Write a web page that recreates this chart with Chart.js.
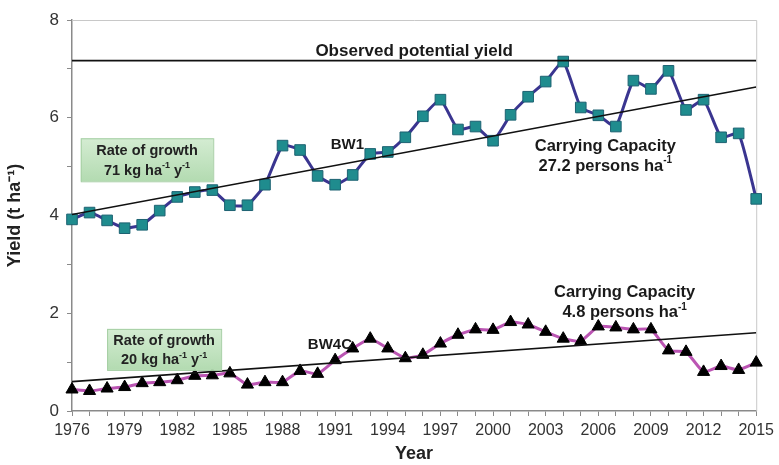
<!DOCTYPE html>
<html>
<head>
<meta charset="utf-8">
<script src="https://cdn.jsdelivr.net/npm/chart.js@4"></script>
<style>
  body { margin: 0; background: #fff; }
  #wrap { width: 779px; height: 465px; }
</style>
</head>
<body>
<div id="wrap"><canvas id="yieldChart"></canvas></div>
<script>
// years on the x axis
const years = [];
for (let y = 1976; y <= 2015; y++) years.push(y);

// BW1 yield, t/ha
const bw1 = [3.92, 4.06, 3.90, 3.74, 3.81, 4.10, 4.38, 4.48, 4.52, 4.21,
  4.21, 4.63, 5.43, 5.34, 4.81, 4.63, 4.83, 5.26, 5.30, 5.60,
  6.03, 6.37, 5.76, 5.82, 5.53, 6.06, 6.43, 6.74, 7.15, 6.21,
  6.05, 5.82, 6.76, 6.59, 6.96, 6.16, 6.37, 5.60, 5.68, 4.34];

// BW4C yield, t/ha
const bw4c = [0.44, 0.41, 0.46, 0.49, 0.57, 0.59, 0.63, 0.72, 0.73, 0.77,
  0.54, 0.59, 0.59, 0.82, 0.76, 1.04, 1.28, 1.48, 1.28, 1.08,
  1.15, 1.38, 1.56, 1.67, 1.66, 1.82, 1.77, 1.62, 1.48, 1.43,
  1.73, 1.71, 1.67, 1.67, 1.24, 1.21, 0.80, 0.92, 0.84, 0.99];

// trend lines (start/end) and potential yield
const trendYears = [1976, 2015];
const bw1Trend = [4.02, 6.63];
const bw4cTrend = [0.60, 1.60];
const potentialYield = 7.17;

const yTickLabels = [0, 2, 4, 6, 8];

const FONT = "'Liberation Sans', Arial, sans-serif";

// text labels drawn in data coordinates
const notes = [
  { x: 1995.5, y: 7.35, size: 17, lines: ["Observed potential yield"] },
  { x: 1991.7, y: 5.45, size: 15, lines: ["BW1"] },
  { x: 1990.7, y: 1.36, size: 15, lines: ["BW4C"] },
  { x: 2006.4, y: 5.42, size: 16.5, lines: ["Carrying Capacity", ["27.2 persons ha", "-1"]] },
  { x: 2007.5, y: 2.42, size: 16.5, lines: ["Carrying Capacity", ["4.8 persons ha", "-1"]] },
];
const boxes = [
  { x0: 1976.5, x1: 1984.05, y0: 5.58, y1: 4.7, lines: ["Rate of growth", ["71 kg ha", "-1", " y", "-1"]] },
  { x0: 1978.0, x1: 1984.5, y0: 1.68, y1: 0.84, lines: ["Rate of growth", ["20 kg ha", "-1", " y", "-1"]] },
];

// draw a line made of [normal, sup, normal, sup...] parts, centred
function drawRich(ctx, parts, cx, cy, size) {
  if (typeof parts === "string") parts = [parts];
  const big = "bold " + size + "px " + FONT;
  const small = "bold " + Math.round(size * 0.62) + "px " + FONT;
  let total = 0;
  parts.forEach((p, i) => {
    ctx.font = i % 2 ? small : big;
    total += ctx.measureText(p).width;
  });
  let x = cx - total / 2;
  ctx.textAlign = "left";
  ctx.textBaseline = "middle";
  parts.forEach((p, i) => {
    ctx.font = i % 2 ? small : big;
    ctx.fillText(p, x, i % 2 ? cy - size * 0.35 : cy);
    x += ctx.measureText(p).width;
  });
}

const annotationPlugin = {
  id: "notes",
  beforeDatasetsDraw(chart) {
    const { ctx, chartArea: a } = chart;
    ctx.save();
    // light frame on top and right
    ctx.strokeStyle = "#c8c8c8";
    ctx.lineWidth = 1;
    ctx.beginPath();
    ctx.moveTo(a.left, a.top + 0.5);
    ctx.lineTo(a.right + 0.5, a.top + 0.5);
    ctx.lineTo(a.right + 0.5, a.bottom);
    ctx.stroke();
    ctx.restore();
  },
  afterDatasetsDraw(chart) {
    const { ctx, scales } = chart;
    const sx = scales.x, sy = scales.y;
    ctx.save();
    boxes.forEach(b => {
      const l = sx.getPixelForValue(b.x0), r = sx.getPixelForValue(b.x1);
      const t = sy.getPixelForValue(b.y0), bt = sy.getPixelForValue(b.y1);
      const g = ctx.createLinearGradient(0, t, 0, bt);
      g.addColorStop(0, "#d4ecd2");
      g.addColorStop(1, "#b3dbb1");
      ctx.fillStyle = g;
      ctx.fillRect(l, t, r - l, bt - t);
      ctx.strokeStyle = "#a6cfa4";
      ctx.lineWidth = 1;
      ctx.strokeRect(l + 0.5, t + 0.5, r - l, bt - t);
      ctx.fillStyle = "#222";
      const cx = (l + r) / 2, h = bt - t;
      drawRich(ctx, b.lines[0], cx, t + h * 0.3, 14.5);
      drawRich(ctx, b.lines[1], cx, t + h * 0.76, 14.5);
    });
    ctx.fillStyle = "#1a1a1a";
    notes.forEach(n => {
      const cx = sx.getPixelForValue(n.x), cy = sy.getPixelForValue(n.y);
      n.lines.forEach((ln, i) => drawRich(ctx, ln, cx, cy + i * 20, n.size));
    });
    ctx.restore();
  }
};

new Chart(document.getElementById("yieldChart"), {
  type: "line",
  data: {
    datasets: [
      {
        data: trendYears.map((x, i) => ({ x, y: bw1Trend[i] })),
        borderColor: "#111", borderWidth: 1.6, pointRadius: 0,
      },
      {
        data: trendYears.map((x, i) => ({ x, y: bw4cTrend[i] })),
        borderColor: "#111", borderWidth: 1.6, pointRadius: 0,
      },
      {
        data: trendYears.map(x => ({ x, y: potentialYield })),
        borderColor: "#111", borderWidth: 1.8, pointRadius: 0,
      },
      {
        label: "BW1",
        data: years.map((x, i) => ({ x, y: bw1[i] })),
        borderColor: "#3a3590", borderWidth: 3,
        pointStyle: "rect", pointRadius: 7.5,
        pointBackgroundColor: "#1f8c8e", pointBorderColor: "#1d6272", pointBorderWidth: 1,
        tension: 0.15, clip: false,
      },
      {
        label: "BW4C",
        data: years.map((x, i) => ({ x, y: bw4c[i] })),
        borderColor: "#bb55b3", borderWidth: 3,
        pointStyle: "triangle", pointRadius: 7,
        pointBackgroundColor: "#000", pointBorderColor: "#000", pointBorderWidth: 1,
        tension: 0.15, clip: false,
      },
    ],
  },
  plugins: [annotationPlugin],
  options: {
    responsive: true,
    maintainAspectRatio: false,
    animation: false,
    layout: { padding: { top: 20, right: 21, left: 0, bottom: 0 } },
    plugins: { legend: { display: false }, tooltip: { enabled: false } },
    scales: {
      x: {
        type: "linear",
        min: 1976, max: 2015,
        afterFit: s => { s.height = 54; },
        border: { color: "#8a8a8a", width: 1.5 },
        grid: { drawOnChartArea: false, drawTicks: true, tickLength: 5, color: "#8a8a8a" },
        afterBuildTicks: s => { s.ticks = years.map(v => ({ value: v })); },
        ticks: {
          autoSkip: false, maxRotation: 0, padding: 5,
          color: "#333", font: { family: FONT, size: 16 },
          callback: v => ((v - 1976) % 3 === 0 ? String(v) : ""),
        },
        title: {
          display: true, text: "Year", color: "#222",
          font: { family: FONT, size: 18, weight: "bold" }, padding: { top: 0, bottom: 0 },
        },
      },
      y: {
        min: 0, max: 8,
        afterFit: s => { s.width = 72; },
        border: { color: "#8a8a8a", width: 1.5 },
        grid: { drawOnChartArea: false, drawTicks: true, tickLength: 5, color: "#8a8a8a" },
        ticks: {
          stepSize: 1, padding: 8, color: "#333",
          font: { family: FONT, size: 17 },
          callback: v => (yTickLabels.includes(v) ? String(v) : ""),
        },
        title: {
          display: true, text: "Yield (t ha⁻¹)", color: "#222",
          font: { family: FONT, size: 18, weight: "bold" }, padding: { bottom: 0 },
        },
      },
    },
  },
});
</script>
</body>
</html>
